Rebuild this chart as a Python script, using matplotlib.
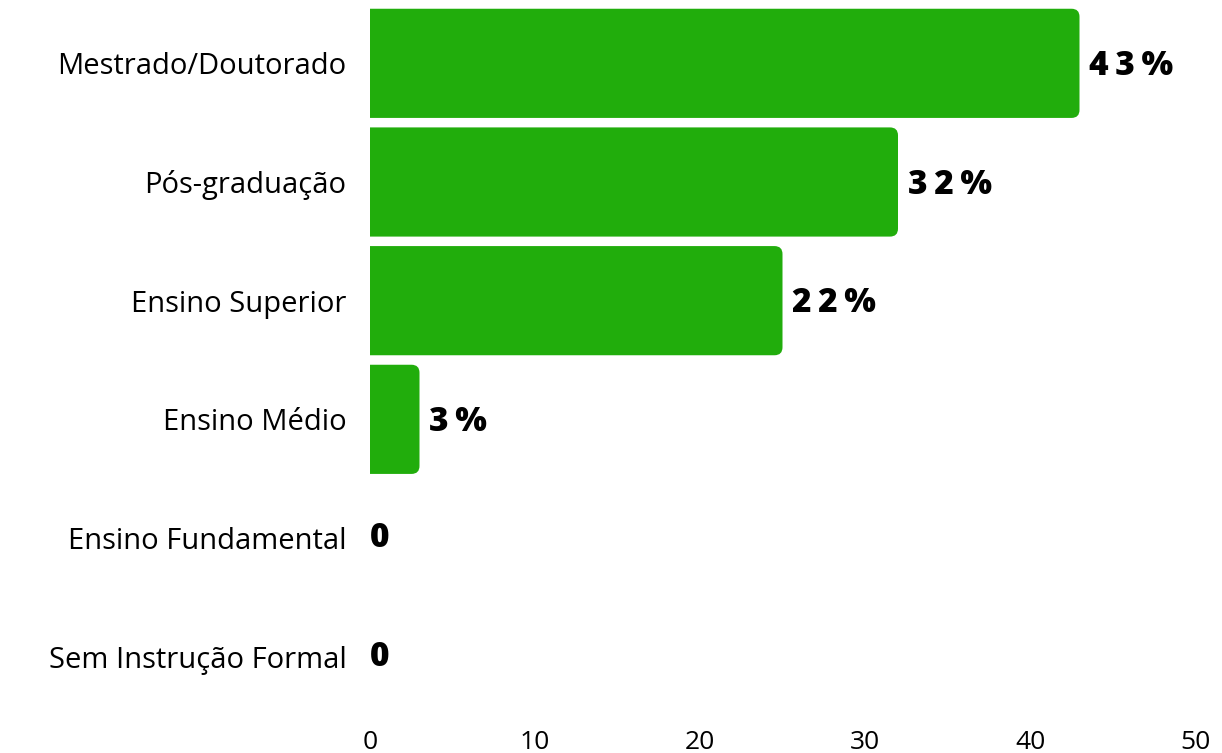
import matplotlib
matplotlib.use("Agg")
import matplotlib.pyplot as plt
from matplotlib.patches import FancyBboxPatch

categories = ["Mestrado/Doutorado", "Pós-graduação", "Ensino Superior",
              "Ensino Médio", "Ensino Fundamental", "Sem Instrução Formal"]
values = [43, 32, 25, 3, 0, 0]
value_labels = ["43%", "32%", "22%", "3%", "0", "0"]
x_ticks = [0, 10, 20, 30, 40, 50]

bar_color = "#21AD0C"
plt.rcParams["font.family"] = ["Open Sans", "DejaVu Sans"]

fig = plt.figure(figsize=(12.22, 7.53), dpi=100)
ax = fig.add_axes([370 / 1222, 1 - 716 / 753, 825 / 1222, 712 / 753])
ax.set_xlim(0, 50)
ax.set_ylim(5.5, -0.5)

bar_h = 0.92
# rounding ~8 px: x units 0.485, y units 0.067
rx = 0.485
aspect = 0.067 / rx
for i, v in enumerate(values):
    if v > 0:
        patch = FancyBboxPatch((-1, i - bar_h / 2), v + 1, bar_h,
                               boxstyle=f"round,pad=0,rounding_size={rx}",
                               mutation_aspect=aspect,
                               facecolor=bar_color, edgecolor="none",
                               clip_on=True)
        ax.add_patch(patch)
    lab = value_labels[i]
    pct = "%" in lab
    spaced = "\u2009".join(lab) if pct else lab
    ax.annotate(spaced, (v, i), xytext=(7 if pct else 0, -2 if pct else 0),
                textcoords="offset points", ha="left", va="center",
                fontsize=24, fontweight=800,
                color="black")

ax.set_yticks(range(len(categories)))
ax.set_yticklabels(categories, fontsize=21)
ax.set_xticks(x_ticks)
ax.set_xticklabels([str(t) for t in x_ticks], fontsize=19)
ax.tick_params(axis="both", length=0)
ax.tick_params(axis="y", pad=17)
ax.tick_params(axis="x", pad=10)
for s in ax.spines.values():
    s.set_visible(False)

fig.savefig("out.png", dpi=100, facecolor="white")
